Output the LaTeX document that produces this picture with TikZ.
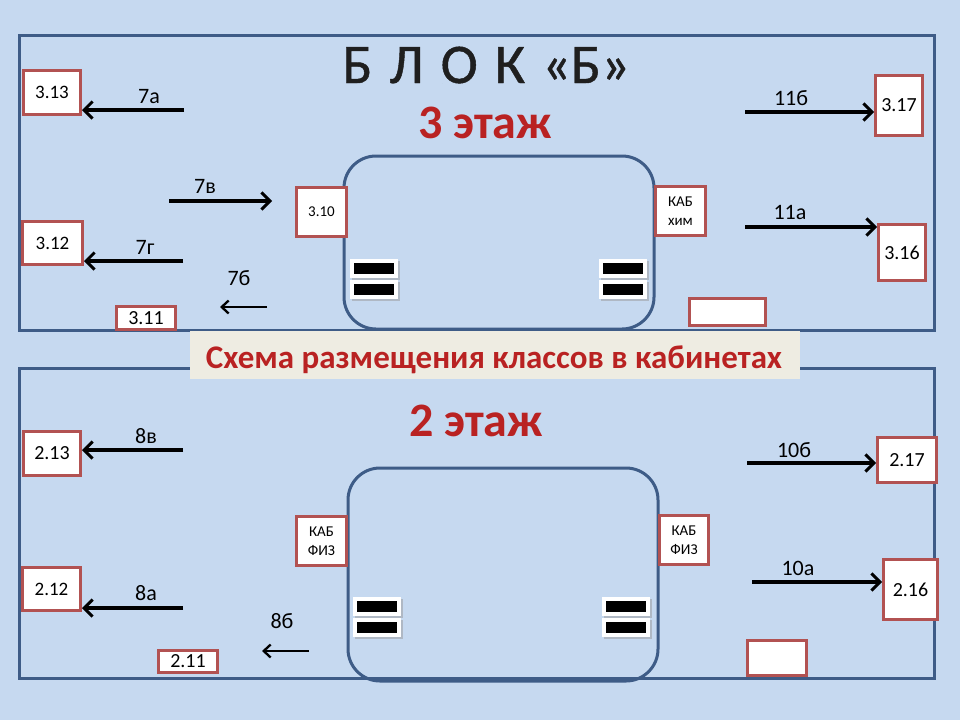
\documentclass[tikz,border=0pt]{standalone}
\usepackage{fontspec}
\setmainfont{Carlito}
\usetikzlibrary{arrows.meta}
\definecolor{bg}{RGB}{198,217,240}
\definecolor{frameblue}{RGB}{62,92,135}
\definecolor{boxred}{RGB}{178,82,82}
\definecolor{titlered}{RGB}{185,34,34}
\definecolor{banner}{RGB}{238,236,226}
\begin{document}
\begin{tikzpicture}[x=1pt,y=-1pt,
  room/.style={draw=boxred, line width=3pt, fill=white, inner sep=0pt, align=center,
    font=\fontsize{19}{21}\selectfont},
  smallroom/.style={room, font=\fontsize{15}{19}\selectfont},
  lbl/.style={font=\fontsize{22}{24}\selectfont, inner sep=0pt, anchor=base},
  bigarr/.style={line width=3.5pt, -{Straight Barb[length=8.5pt,width=17pt,line width=3pt]}},
  smallarr/.style={line width=2.5pt, -{Straight Barb[length=7pt,width=13pt,line width=2.3pt]}},
  frameline/.style={draw=frameblue, line width=3pt},
  yard/.style={draw=frameblue, line width=3pt, rounded corners=32pt},
  redtitle/.style={text=titlered, inner sep=0pt, anchor=base},
  stairs/.pic={
    \fill[black!40, opacity=.5] (1.5,1.5) rectangle (49.5,20.5);
    \fill[black!40, opacity=.5] (1.5,22.5) rectangle (49.5,41.5);
    \fill[white] (0,0) rectangle (48,19);
    \fill[white] (0,21) rectangle (48,40);
    \fill[black] (4,4) rectangle (44,15);
    \fill[black] (4,25) rectangle (44,36);
  }
]
\fill[bg] (0,0) rectangle (960,720);
\useasboundingbox (0,0) rectangle (960,720);

% frames
\draw[frameline] (19,35) rectangle (934,330);
\draw[frameline] (19,368) rectangle (934,678);

% courtyards
\draw[yard] (344,156) rectangle (654,329);
\draw[yard] (348,468) rectangle (658,681);

% stairs
\pic at (350,259) {stairs};
\pic at (599,259) {stairs};
\pic at (353,597) {stairs};
\pic at (602,597) {stairs};

% title
\node[inner sep=0pt, anchor=base, text=black!88, font=\fontsize{56}{60}\selectfont\addfontfeature{FakeBold=0.8}] (title) at (486,83)
  {Б\hspace{17pt}Л\hspace{17pt}О\hspace{17pt}К\hspace{17pt}«Б»};
\node[redtitle, font=\bfseries\fontsize{48}{52}\selectfont] (f3) at (485,138) {3 этаж};
\node[redtitle, font=\bfseries\fontsize{48}{52}\selectfont] (f2) at (476,436) {2 этаж};

% banner
\fill[banner] (190,331) rectangle (800,379);
\node[redtitle, font=\bfseries\fontsize{33}{36}\selectfont] (ban) at (494,368) {Схема размещения классов в кабинетах};

% rooms, 3rd floor
\node[room, minimum width=57pt, minimum height=44pt] (r313) at (52,92.5) {3.13};
\node[room, minimum width=60pt, minimum height=43pt] (r312) at (52.5,243) {3.12};
\node[smallroom, minimum width=50pt, minimum height=49pt] (r310) at (321.5,212) {3.10};
\node[room, font=\fontsize{20}{22}\selectfont, minimum width=59pt, minimum height=23pt] (r311) at (146,318) {3.11};
\node[smallroom, minimum width=50pt, minimum height=49pt] (rhim) at (680.5,211) {КАБ\\хим};
\node[room, font=\fontsize{20}{22}\selectfont, minimum width=47pt, minimum height=60pt] (r317) at (899,105.5) {3.17};
\node[room, font=\fontsize{20}{22}\selectfont, minimum width=47pt, minimum height=56pt] (r316) at (902,252.5) {3.16};
\node[room, minimum width=76pt, minimum height=27pt] (rtop) at (727.5,312) {};

% rooms, 2nd floor
\node[room, font=\fontsize{20}{22}\selectfont, minimum width=57pt, minimum height=44pt] (r213) at (52,453.5) {2.13};
\node[room, minimum width=58pt, minimum height=43pt] (r212) at (51.5,589) {2.12};
\node[smallroom, minimum width=50pt, minimum height=49pt] (rfizl) at (321.5,541) {КАБ\\ФИЗ};
\node[room, font=\fontsize{20}{22}\selectfont, minimum width=59pt, minimum height=22pt] (r211) at (188,661.5) {2.11};
\node[smallroom, minimum width=49pt, minimum height=49pt] (rfizr) at (684,540) {КАБ\\ФИЗ};
\node[room, font=\fontsize{20}{22}\selectfont, minimum width=59pt, minimum height=45pt] (r217) at (907,460) {2.17};
\node[room, font=\fontsize{20}{22}\selectfont, minimum width=54pt, minimum height=60pt] (r216) at (910.5,589.5) {2.16};
\node[room, minimum width=59pt, minimum height=35pt] (rbot) at (777,658) {};

% arrow end points
\coordinate (s7a) at (184,110);
\coordinate (s7g) at (183,261);
\coordinate (s7v) at (169,201);
\coordinate (e7v) at (272,201);
\coordinate (s7b) at (267,307);
\coordinate (e7b) at (220,307);
\coordinate (s11b) at (745,112);
\coordinate (s11a) at (745,227);
\coordinate (s8v) at (183,450);
\coordinate (s8a) at (183,608);
\coordinate (s8b) at (309,651);
\coordinate (e8b) at (262,651);
\coordinate (s10b) at (747,463);
\coordinate (s10a) at (752,582);

% arrows, 3rd floor
\draw[bigarr] (s7a) -- (s7a -| r313.east);
\draw[bigarr] (s7g) -- (s7g -| r312.east);
\draw[bigarr] (s7v) -- (e7v);
\draw[smallarr] (s7b) -- (e7b);
\draw[bigarr] (s11b) -- (s11b -| r317.west);
\draw[bigarr] (s11a) -- (s11a -| r316.west);

% arrows, 2nd floor
\draw[bigarr] (s8v) -- (s8v -| r213.east);
\draw[bigarr] (s8a) -- (s8a -| r212.east);
\draw[smallarr] (s8b) -- (e8b);
\draw[bigarr] (s10b) -- (s10b -| r217.west);
\draw[bigarr] (s10a) -- (s10a -| r216.west);

% labels
\node[lbl] (l7a) at (149,103) {7а};
\node[lbl] (l7v) at (205,193) {7в};
\node[lbl] (l7g) at (145,254) {7г};
\node[lbl] (l7b) at (239,285) {7б};
\node[lbl] (l11b) at (791,105) {11б};
\node[lbl] (l11a) at (790,219) {11а};
\node[lbl] (l8v) at (146,443) {8в};
\node[lbl] (l8a) at (146,600) {8а};
\node[lbl] (l8b) at (282,628) {8б};
\node[lbl] (l10b) at (794,457) {10б};
\node[lbl] (l10a) at (798,575) {10а};
\end{tikzpicture}
\end{document}
